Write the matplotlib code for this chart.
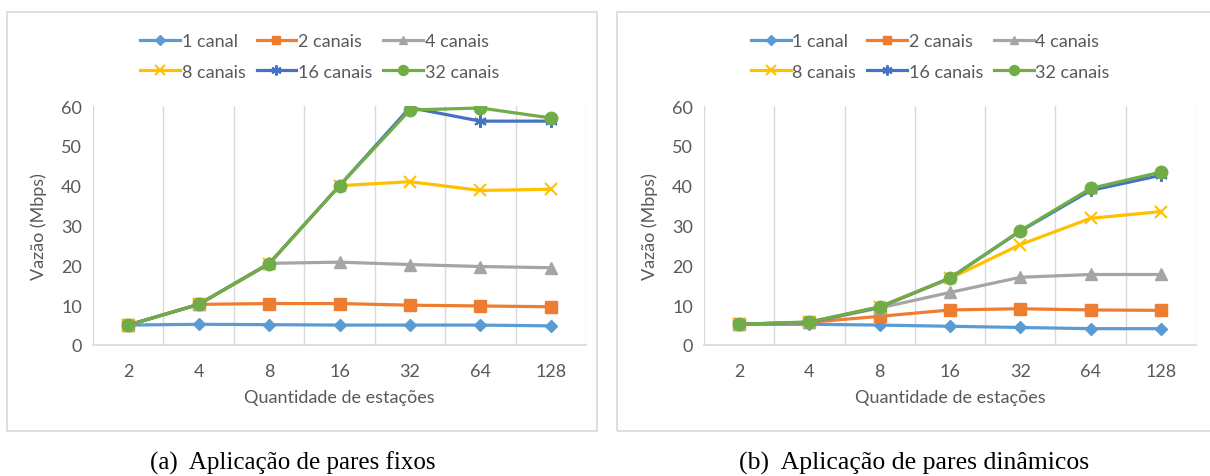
import matplotlib.pyplot as plt
from matplotlib.patches import Rectangle

estacoes = ['2', '4', '8', '16', '32', '64', '128']
series = ['1 canal', '2 canais', '4 canais', '8 canais', '16 canais', '32 canais']

# (a) pares fixos
fixos_1 = [5.0, 5.2, 5.1, 5.0, 5.0, 5.0, 4.8]
fixos_2 = [5.0, 10.2, 10.4, 10.4, 10.0, 9.8, 9.6]
fixos_4 = [5.0, 10.2, 20.5, 20.8, 20.2, 19.7, 19.4]
fixos_8 = [5.0, 10.2, 20.4, 40.0, 41.0, 38.8, 39.1]
fixos_16 = [5.0, 10.2, 20.4, 40.0, 59.6, 56.2, 56.2]
fixos_32 = [5.0, 10.2, 20.4, 40.0, 59.0, 59.5, 57.0]

# (b) pares dinâmicos
din_1 = [5.2, 5.2, 5.0, 4.7, 4.4, 4.1, 4.1]
din_2 = [5.2, 5.7, 7.2, 8.8, 9.1, 8.8, 8.7]
din_4 = [5.2, 5.7, 9.3, 13.2, 17.0, 17.7, 17.7]
din_8 = [5.2, 5.7, 9.5, 16.7, 25.2, 31.8, 33.5]
din_16 = [5.2, 5.7, 9.5, 16.8, 28.6, 38.8, 42.6]
din_32 = [5.2, 5.8, 9.6, 16.8, 28.7, 39.3, 43.4]

cores = ['#5B9BD5', '#ED7D31', '#A5A5A5', '#FFC000', '#4472C4', '#70AD47']
marcadores = ['D', 's', '^', 'x', (6, 2, 0), 'o']
tamanhos = [6, 8, 8, 9, 9, 9]

cinza = '#595959'
fonte = 'Lato'

fig = plt.figure(figsize=(12.1, 4.77), dpi=100)

# molduras dos graficos
for x0, x1 in [(7, 597), (617, 1212)]:
    fig.patches.append(Rectangle((x0 / 1210, 1 - 432 / 477), (x1 - x0) / 1210, (432 - 13) / 477,
                                 transform=fig.transFigure, fill=False, edgecolor='#D9D9D9', lw=1.2))


def desenha(ax, dados):
    xs = range(len(estacoes))
    linhas = []
    for i, ys in enumerate(dados):
        l, = ax.plot(xs, ys, color=cores[i], marker=marcadores[i], markersize=tamanhos[i],
                     lw=2.3, mew=1.5 if i in (3, 4) else 1, label=series[i], zorder=3 + i)
        linhas.append(l)
    ax.set_xlim(-0.5, 6.5)
    ax.set_ylim(0, 60)
    ax.set_yticks(range(0, 61, 10))
    ax.set_xticks(list(xs))
    ax.set_xticklabels(estacoes)
    for g in range(8):
        ax.axvline(g - 0.5, color='#D9D9D9', lw=1, zorder=1)
    for s in ['top', 'right', 'left']:
        ax.spines[s].set_visible(False)
    ax.spines['bottom'].set_color('#D9D9D9')
    ax.spines['bottom'].set_linewidth(1.2)
    ax.tick_params(length=0, colors=cinza, labelsize=13, pad=8)
    ax.tick_params(axis='x', pad=13)
    for t in ax.get_xticklabels() + ax.get_yticklabels():
        t.set_fontfamily(fonte)
    ax.set_xlabel('Quantidade de estações', color=cinza, fontsize=13, fontfamily=fonte, labelpad=7)
    ax.set_ylabel('Vazão (Mbps)', color=cinza, fontsize=13, fontfamily=fonte, labelpad=10)
    ordem = [0, 3, 1, 4, 2, 5]
    ax.legend([linhas[k] for k in ordem], [series[k] for k in ordem], ncol=3, frameon=False,
              loc='lower center', bbox_to_anchor=(0.46, 1.08), prop={'family': fonte, 'size': 13},
              labelcolor=cinza, handlelength=2.2, handletextpad=0.1, columnspacing=0.6,
              labelspacing=0.8, borderaxespad=0, markerscale=0.8)


ax1 = fig.add_axes([93 / 1210, 1 - 346 / 477, 493 / 1210, 239 / 477])
desenha(ax1, [fixos_1, fixos_2, fixos_4, fixos_8, fixos_16, fixos_32])

ax2 = fig.add_axes([704 / 1210, 1 - 346 / 477, 492 / 1210, 239 / 477])
desenha(ax2, [din_1, din_2, din_4, din_8, din_16, din_32])

fig.text(293 / 1210, 1 - 463 / 477, '(a)  Aplicação de pares fixos', ha='center', va='center',
         fontsize=18, fontfamily='Liberation Serif')
fig.text(914 / 1210, 1 - 463 / 477, '(b)  Aplicação de pares dinâmicos', ha='center', va='center',
         fontsize=18.5, fontfamily='Liberation Serif')

fig.savefig('out.png', dpi=100, facecolor='white')
